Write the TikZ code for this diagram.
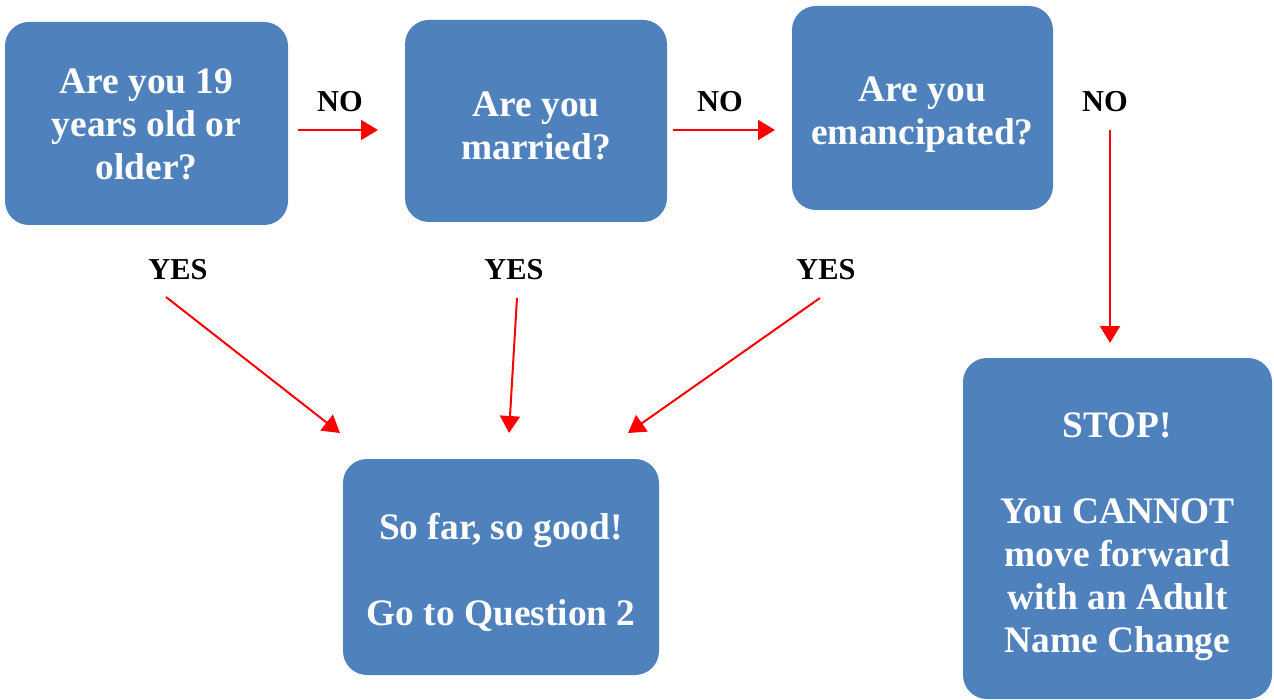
\documentclass[tikz,border=0pt]{standalone}
\usepackage{fontspec}
\setmainfont{Liberation Serif}
\usetikzlibrary{arrows.meta}
\definecolor{boxblue}{HTML}{4F81BD}
\begin{document}
\begin{tikzpicture}[x=0.5pt,y=-0.5pt,
    qbox/.style={fill=boxblue,rounded corners=12pt,inner sep=0pt},
    qtext/.style={text=white,align=center,inner sep=0pt,
      font=\fontsize{18.7}{21.5}\selectfont\bfseries},
    lbl/.style={font=\fontsize{15.2}{17}\selectfont\bfseries},
    redarrow/.style={-{Triangle[length=8.5pt,width=10pt]},red,line width=1pt}]
  \useasboundingbox (0,0) rectangle (1274,700);
  \draw
    (146.5,123.5) node[qbox,minimum width=141.5pt,minimum height=101.5pt,
      label={[qtext,yshift=-0.5pt]center:Are you 19\\years old or\\older?}] (age){}
    (536,121) node[qbox,minimum width=131pt,minimum height=101pt,
      label={[qtext,yshift=-2.5pt]center:Are you\\married?}] (married){}
    (922.5,108) node[qbox,minimum width=130.5pt,minimum height=102pt,
      label={[qtext,yshift=-3.5pt]center:Are you\\emancipated?}] (emanc){}
    (501,567) node[qbox,minimum width=158pt,minimum height=108pt,
      label={[qtext,yshift=-2.5pt]center:So far, so good!\\[21.5pt]Go to Question 2}] (good){}
    (1117.5,528.5) node[qbox,minimum width=154.5pt,minimum height=170.5pt,
      label={[qtext,yshift=-4pt]center:STOP!\\[21.5pt]You CANNOT\\move forward\\with an Adult\\Name Change}] (stop){};
  \draw
    (340,102) node[lbl] (no1){NO}
    (720,102) node[lbl] (no2){NO}
    (1105,102) node[lbl] (no3){NO}
    (178,270) node[lbl] (yes1){YES}
    (514,270) node[lbl] (yes2){YES}
    (826,270) node[lbl] (yes3){YES};
  \coordinate (n1a) at (298,130);
  \coordinate (n1b) at (378,130);
  \coordinate (n2a) at (673,130);
  \coordinate (n2b) at (775,130);
  \coordinate (n3a) at (1110,130);
  \coordinate (n3b) at (1110,343);
  \coordinate (y1a) at (166,297);
  \coordinate (y1b) at (340,433);
  \coordinate (y2a) at (517,298);
  \coordinate (y2b) at (509,433);
  \coordinate (y3a) at (820,298);
  \coordinate (y3b) at (628,433);
  \begin{scope}[redarrow]
    \draw (n1a) to (n1b);
    \draw (n2a) to (n2b);
    \draw (n3a) to (n3b);
    \draw (y1a) to (y1b);
    \draw (y2a) to (y2b);
    \draw (y3a) to (y3b);
  \end{scope}
\end{tikzpicture}
\end{document}
